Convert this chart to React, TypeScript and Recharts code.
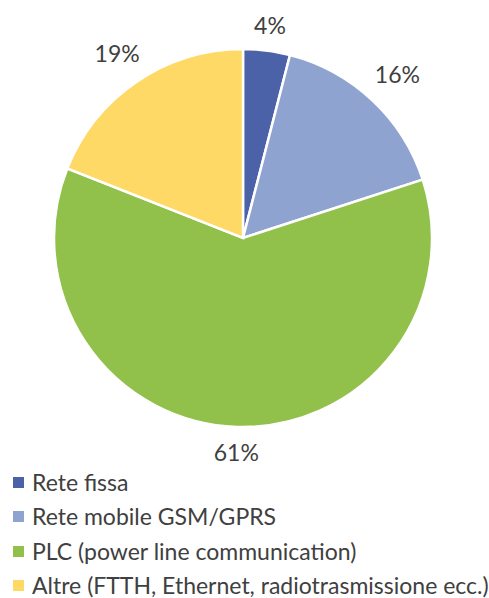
import { PieChart, Pie, Cell, Legend } from "recharts";

const categories = [
  "Rete fissa",
  "Rete mobile GSM/GPRS",
  "PLC (power line communication)",
  "Altre (FTTH, Ethernet, radiotrasmissione ecc.)",
];
const shares = [4, 16, 61, 19];
const COLORS = ["#4C62A8", "#8FA3D0", "#92C14B", "#FFD966"];

const data = categories.map((name, i) => ({ name, value: shares[i] }));

const FONT = "Lato, 'Open Sans', sans-serif";
const TEXT = "#404040";
const RADIAN = Math.PI / 180;

function renderLabel(props: any) {
  const { cx, cy, midAngle, outerRadius, value } = props;
  const ux = Math.cos(-midAngle * RADIAN);
  const uy = Math.sin(-midAngle * RADIAN);
  const label = `${value}%`;
  const w = label.length * 14;
  const h = 17;
  const r = outerRadius + 16 + Math.abs(ux) * w / 2 + Math.abs(uy) * h / 2;
  return (
    <text
      x={cx + r * ux}
      y={cy + r * uy}
      fill={TEXT}
      textAnchor="middle"
      dominantBaseline="central"
      fontSize={23}
      fontFamily={FONT}
    >
      {label}
    </text>
  );
}

function LegendBox() {
  return (
    <div style={{ fontFamily: FONT, color: TEXT, fontSize: 23, lineHeight: "23px" }}>
      {data.map((d, i) => (
        <div key={d.name} style={{ display: "flex", alignItems: "center", height: 34.5, whiteSpace: "nowrap" }}>
          <span style={{ width: 11, height: 11, background: COLORS[i], marginLeft: 13, marginRight: 8, flex: "none" }} />
          <span>{d.name}</span>
        </div>
      ))}
    </div>
  );
}

export default function App() {
  return (
    <div style={{ position: "absolute", left: 0, top: 0, width: 489, height: 598, background: "#fff" }}>
      <PieChart width={489} height={598} margin={{ top: 0, right: 0, bottom: 0, left: 0 }}>
        <Pie
          data={data}
          dataKey="value"
          nameKey="name"
          cx={243}
          cy={238}
          outerRadius={189}
          startAngle={90}
          endAngle={-270}
          stroke="#fff"
          strokeWidth={2.5}
          label={renderLabel}
          labelLine={false}
          isAnimationActive={false}
        >
          {data.map((_, i) => (
            <Cell key={i} fill={COLORS[i]} />
          ))}
        </Pie>
        <Legend
          layout="horizontal"
          verticalAlign="bottom"
          align="left"
          content={<LegendBox />}
          wrapperStyle={{ left: 0, top: 465, bottom: "auto", width: 489 }}
        />
      </PieChart>
    </div>
  );
}
